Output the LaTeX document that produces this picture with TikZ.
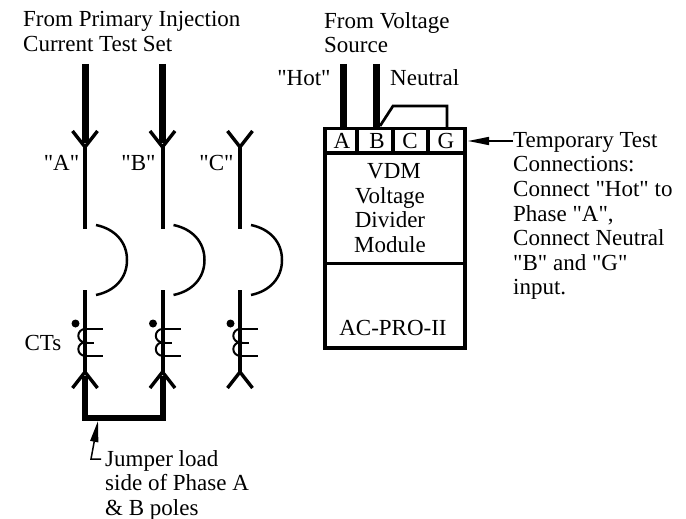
\documentclass[tikz,border=0pt]{standalone}
\usepackage{fontspec}
\setmainfont{Liberation Serif}[Ligatures=TeXOff]
\usetikzlibrary{positioning,arrows.meta}
\tikzset{
  lbl/.style={inner sep=0pt, anchor=base, font=\fontsize{23}{24.6}\selectfont},
  lbltxt/.style={lbl, anchor=north west, align=left},
  thinwire/.style={line width=4pt},
  thickwire/.style={line width=7pt},
  coilwire/.style={line width=2pt},
  boxwire/.style={line width=3.4pt},
  ptr/.style={line width=1.5pt, -{Triangle[length=21pt,width=8pt]}}
}
\newcommand{\phasepole}[1]{
  % line side
  \draw [thinwire] (#1,147) -- (#1,229);
  \draw [line width=3.4pt] (#1-12.5,131) -- (#1,147) -- (#1+12.5,131);
  % breaker
  \draw [line width=2.5pt] (#1+11,225) .. controls (#1+30,229) and (#1+42,242) .. (#1+42,260) .. controls (#1+42,278) and (#1+30,291) .. (#1+11,295);
  \draw [thinwire] (#1,290) -- (#1,372);
  % CT
  \fill (#1-9.5,323.5) circle (4);
  \draw [coilwire] (#1,329) arc (270:90:6.7) arc (270:90:6.7);
  \draw [coilwire] (#1,329) -- ++(18,0);
  \draw [coilwire] (#1,342.5) -- ++(9,0);
  \draw [coilwire] (#1,356) -- ++(18,0);
  % load side
  \draw [line width=3.4pt] (#1-12.5,388) -- (#1,372) -- (#1+12.5,388);
}
\begin{document}
\begin{tikzpicture}[x=1pt,y=-1pt]
  \useasboundingbox (0,0) rectangle (686,519);
  % poles
  \phasepole{85}
  \phasepole{162.5}
  \phasepole{240}
  % test set leads
  \draw [thickwire] (85,64) -- (85,143);
  \draw [thickwire] (162.5,64) -- (162.5,143);
  % jumper
  \coordinate (jtl) at (85,376);
  \coordinate (jtr) at (162.5,376);
  \draw [line width=6pt] (jtl) -- (85,418) -- (162.5,418) -- (jtr);
  % labels
  \node [lbltxt] (from) at (23,11) {From Primary Injection\\Current Test Set};
  \node [lbl] (la) at (61.5,170) {"A"};
  \node [lbl] (lb) at (138.5,170) {"B"};
  \node [lbl] (lc) at (216.5,170) {"C"};
  \node [lbl] (cts) at (43,350) {CTs};
  % jumper note
  \node [lbltxt] (jnote) at (105,450) {Jumper load\\side of Phase A\\\& B poles};
  \coordinate (jtip) at (98,421);
  \coordinate (jbend) at (91,459);
  \draw [ptr] (101,459) -- (jbend) -- (jtip);
  % module
  \node [lbltxt] (fromv) at (324,12) {From Voltage\\Source};
  \node [lbl] (hot) at (304,86) {"Hot"};
  \node [lbl, anchor=base west] (neut) at (390,86) {Neutral};
  \draw [boxwire] (325,128.5) rectangle (465,348);
  \draw [boxwire] (325,153) -- (465,153);
  \draw [boxwire] (325,263.5) -- (465,263.5);
  \draw [boxwire] (357,128.5) -- (357,153);
  \draw [boxwire] (393,128.5) -- (393,153);
  \draw [boxwire] (428,128.5) -- (428,153);
  \node [lbl] (ta) at (342,148) {A};
  \node [lbl] (tb) at (377,148) {B};
  \node [lbl] (tc) at (410,148) {C};
  \node [lbl] (tg) at (446,148) {G};
  \node [lbl] (vdm) at (394,178) {VDM};
  \node [lbl] (volt) at (390,203) {Voltage};
  \node [lbl] (divi) at (390,227) {Divider};
  \node [lbl] (modu) at (390,252) {Module};
  \node [lbl] (acpro) at (393,335) {AC-PRO-II};
  \draw [thickwire] (343.5,64) -- (343.5,127);
  \draw [thickwire] (376.5,64) -- (376.5,127);
  \draw [line width=2.7pt] (380,126) -- (393,106) -- (447,106) -- (447,127);
  % note
  \node [lbltxt] (note) at (513,132) {Temporary Test\\Connections:\\Connect "Hot" to\\Phase "A",\\Connect Neutral\\"B" and "G"\\input.};
  \coordinate (ntip) at (468,141);
  \draw [ptr] (note.west |- ntip) -- (ntip);
\end{tikzpicture}
\end{document}
